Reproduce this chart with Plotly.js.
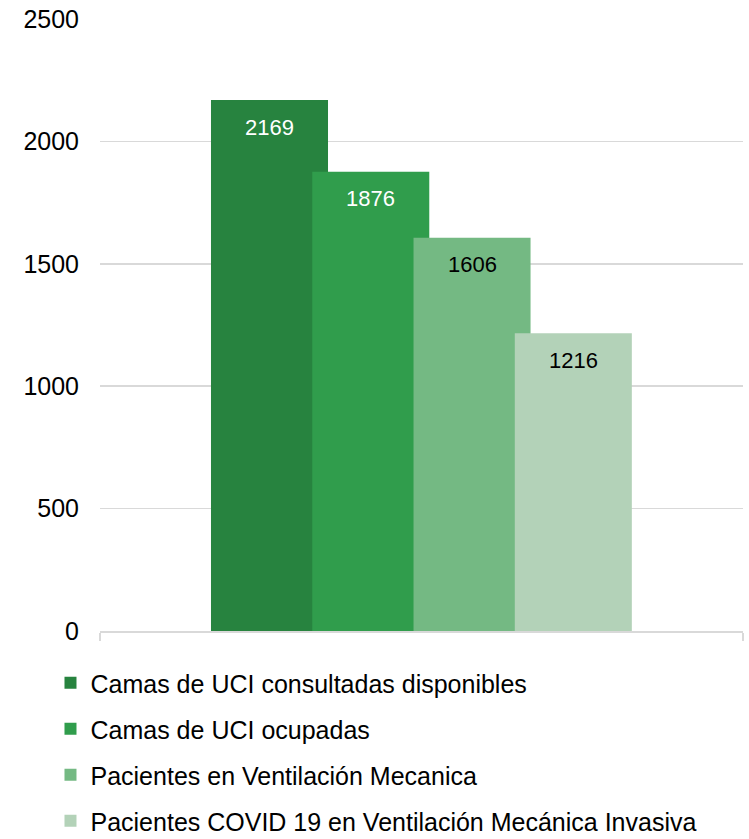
<!DOCTYPE html>
<html>
<head>
<meta charset="utf-8">
<script src="https://cdn.plot.ly/plotly-3.0.1.min.js"></script>
<style>html,body{margin:0;padding:0;background:#fff;}#chart{width:749px;height:839px;}</style>
</head>
<body>
<div id="chart"></div>
<script>
const categories = [""];
const seriesNames = [
  "Camas de UCI consultadas disponibles",
  "Camas de UCI ocupadas",
  "Pacientes en Ventilación Mecanica",
  "Pacientes COVID 19 en Ventilación Mecánica Invasiva"
];
const seriesValues = [2169, 1876, 1606, 1216];
const yTicks = [0, 500, 1000, 1500, 2000, 2500];

const colors = ["#27833f", "#309d4c", "#74b983", "#b3d2b8"];
const labelColors = ["#ffffff", "#ffffff", "#000000", "#000000"];
const barWidth = 0.182;
const barStep = 0.1575;
const firstOffset = -0.3274;
const FONT = "Liberation Sans, Arial, sans-serif";

const traces = seriesNames.map((name, i) => ({
  type: "bar",
  name: name,
  x: categories,
  y: [seriesValues[i]],
  marker: {color: colors[i], line: {width: 0}},
  offset: firstOffset + i * barStep,
  width: barWidth,
  legendgroup: "g" + i,
  hoverinfo: "none"
}));

const annotations = seriesNames.map((name, i) => ({
  x: firstOffset + i * barStep + barWidth / 2,
  y: seriesValues[i],
  xref: "x", yref: "y",
  text: String(seriesValues[i]),
  showarrow: false,
  yanchor: "middle",
  xanchor: "center",
  yshift: -27,
  font: {family: FONT, size: 22, color: labelColors[i]}
}));

const layout = {
  width: 749, height: 839,
  margin: {l: 100, r: 6, t: 19, b: 208, autoexpand: false},
  paper_bgcolor: "#ffffff",
  plot_bgcolor: "#ffffff",
  barmode: "overlay",
  showlegend: true,
  font: {family: FONT, color: "#000000"},
  xaxis: {
    type: "category",
    range: [-0.5, 0.5],
    showticklabels: false,
    showgrid: false,
    showline: true,
    linecolor: "#d9d9d9",
    linewidth: 1.5,
    ticks: "outside",
    tickson: "boundaries",
    ticklen: 8,
    tickcolor: "#d9d9d9",
    tickwidth: 1.5,
    zeroline: false,
    fixedrange: true
  },
  yaxis: {
    range: [0, 2500],
    tickvals: yTicks,
    ticktext: yTicks.map(String),
    showgrid: true,
    gridcolor: "#d9d9d9",
    gridwidth: 1.5,
    zeroline: false,
    showline: false,
    ticks: "",
    ticklabelstandoff: 20,
    tickfont: {family: FONT, size: 25, color: "#000000"},
    fixedrange: true
  },
  legend: {
    orientation: "v",
    x: -0.077, xanchor: "left",
    y: -0.0474, yanchor: "top",
    font: {family: FONT, size: 25, color: "#000000"},
    tracegroupgap: 10.5,
    traceorder: "grouped",
    bgcolor: "rgba(0,0,0,0)"
  },
  annotations: annotations
};

Plotly.newPlot("chart", traces, layout, {displayModeBar: false, staticPlot: true});
</script>
</body>
</html>
